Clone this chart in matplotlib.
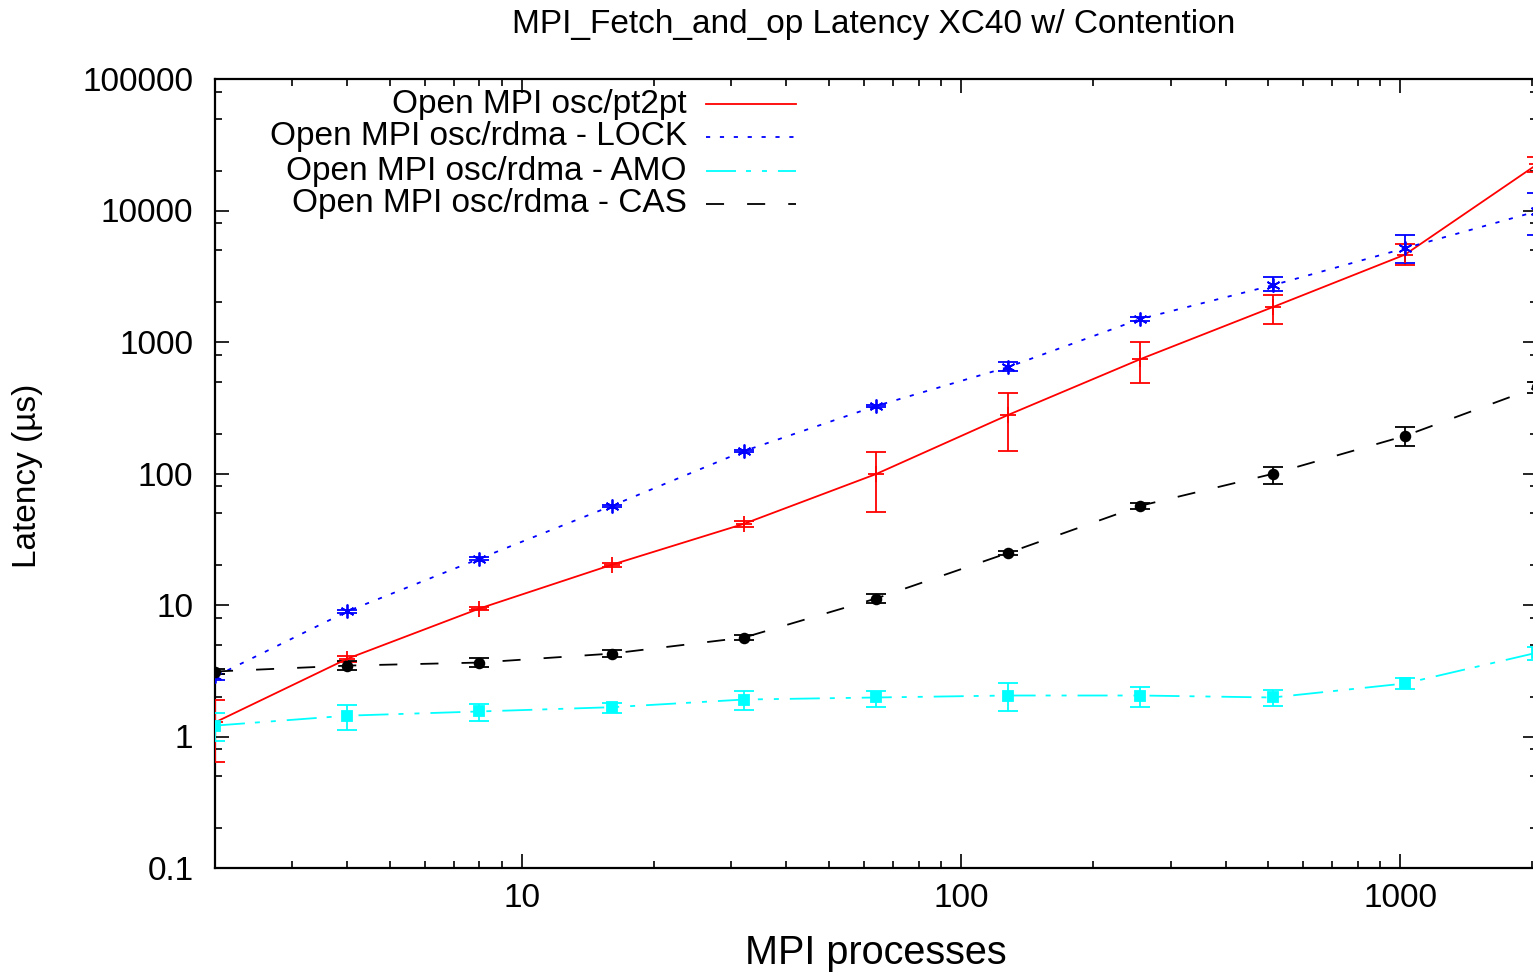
import numpy as np
import matplotlib
matplotlib.use("Agg")
import matplotlib.pyplot as plt
from matplotlib.ticker import LogLocator, NullFormatter, FixedLocator, FixedFormatter
from matplotlib.lines import Line2D

plt.rcParams['font.family'] = ['Liberation Sans', 'DejaVu Sans']
plt.rcParams['lines.scale_dashes'] = False

# -------- data --------
procs = [2, 4, 8, 16, 32, 64, 128, 256, 512, 1024, 2048]

pt2pt = [1.28, 3.9, 9.4, 20.2, 41.4, 99, 279, 741, 1840, 4610, 22400]
pt2pt_lo = [0.64, 3.7, 9.1, 19.6, 39.5, 51, 148, 490, 1370, 3840, 19500]
pt2pt_hi = [1.88, 4.1, 9.7, 20.8, 43.5, 146, 409, 1000, 2270, 5540, 25400]

lock = [2.86, 8.94, 22.5, 56.7, 148, 326, 645, 1497, 2700, 5160, 9860]
lock_lo = [2.7, 8.7, 22.0, 55.5, 145, 318, 600, 1450, 2450, 3980, 6470]
lock_hi = [3.0, 9.2, 23.0, 58.0, 151, 334, 700, 1550, 3100, 6470, 13700]

amo = [1.21, 1.44, 1.55, 1.67, 1.91, 1.98, 2.05, 2.05, 1.98, 2.53, 4.34]
amo_lo = [0.92, 1.13, 1.32, 1.5, 1.6, 1.69, 1.56, 1.67, 1.72, 2.3, 3.8]
amo_hi = [1.5, 1.75, 1.78, 1.81, 2.21, 2.21, 2.54, 2.37, 2.27, 2.8, 4.78]

cas = [3.12, 3.46, 3.65, 4.27, 5.65, 11.2, 24.9, 56.8, 99.3, 193, 454]
cas_lo = [3.0, 3.2, 3.35, 4.0, 5.4, 10.4, 24.0, 53.5, 83, 163, 410]
cas_hi = [3.25, 3.75, 3.95, 4.55, 5.95, 12.2, 25.9, 60.0, 113, 224, 500]

labels = ["Open MPI osc/pt2pt", "Open MPI osc/rdma - LOCK",
          "Open MPI osc/rdma - AMO", "Open MPI osc/rdma - CAS"]
# ------------------------------------------------

W, H = 1533, 973
fig = plt.figure(figsize=(W / 100, H / 100), dpi=100)
ax = fig.add_axes([215 / W, (H - 868) / H, 1322 / W, 789 / H])

asterisk = (6, 2, 0)
series = [
    (pt2pt, pt2pt_lo, pt2pt_hi, '#ff0000', '+', 11, None),
    (lock, lock_lo, lock_hi, '#0000ff', asterisk, 10, (0, (3, 7))),
    (amo, amo_lo, amo_hi, '#00ffff', 's', 7, (0, (21.6, 7.2, 3.6, 7.9, 3.6, 7.9))),
    (cas, cas_lo, cas_hi, '#000000', 'o', 7, (0, (13, 16.6))),
]

for y, lo, hi, col, mk, ms, dash in series:
    y = np.array(y)
    err = [y - np.array(lo), np.array(hi) - y]
    ax.errorbar(procs, y, yerr=err, fmt='none', ecolor=col, elinewidth=1.3,
                capsize=7.5, capthick=1.3, zorder=3)
    line, = ax.plot(procs, y, color=col, lw=1.3, marker=mk, ms=ms,
                    mew=1.3, zorder=4)
    if dash is not None:
        line.set_linestyle(dash)

ax.set_xscale('log')
ax.set_yscale('log')
ax.set_xlim(2, 2048)
ax.set_ylim(0.1, 100000)

ax.xaxis.set_major_locator(FixedLocator([10, 100, 1000]))
ax.xaxis.set_major_formatter(FixedFormatter(['10', '100', '1000']))
ax.xaxis.set_minor_locator(LogLocator(base=10, subs=np.arange(2, 10)))
ax.xaxis.set_minor_formatter(NullFormatter())

yt = [0.1, 1, 10, 100, 1000, 10000, 100000]
ax.yaxis.set_major_locator(FixedLocator(yt))
ax.yaxis.set_major_formatter(FixedFormatter(['0.1', '1', '10', '100', '1000', '10000', '100000']))
ax.yaxis.set_minor_locator(LogLocator(base=10, subs=[2, 5, 8]))
ax.yaxis.set_minor_formatter(NullFormatter())

ax.tick_params(which='both', direction='in', top=True, right=True, width=1.2)
ax.tick_params(which='major', length=10, labelsize=24)
ax.tick_params(axis='y', which='major', pad=15.5)
ax.tick_params(axis='x', which='major', pad=11)
ax.tick_params(which='minor', length=5)
for s in ax.spines.values():
    s.set_linewidth(1.6)

# title and axis labels placed in figure pixels
fig.text(874 / W, 1 - 25 / H, "MPI_Fetch_and_op Latency XC40 w/ Contention",
         ha='center', va='center', fontsize=24)
fig.text(876 / W, 1 - 953 / H, "MPI processes", ha='center', va='center', fontsize=28.5)
fig.text(28 / W, 1 - 476 / H, "Latency (µs)", ha='center', va='center',
         rotation=90, fontsize=24)

# legend drawn by hand: right-aligned text, line sample on the right
rows = [0.968, 0.9265, 0.883, 0.8416]
styles = [('#ff0000', '-'), ('#0000ff', (0, (3, 7))),
          ('#00ffff', (0, (21.6, 7.2, 3.6, 7.9, 3.6, 7.9))), ('#000000', (0, (13, 16.6)))]
tx = (687 - 215) / 1322
lx0, lx1 = (706 - 215) / 1322, (796 - 215) / 1322
for lab, yy, (col, ls) in zip(labels, rows, styles):
    ax.text(tx, yy, lab, transform=ax.transAxes, ha='right', va='center', fontsize=24)
    ax.add_line(Line2D([lx0, lx1], [yy, yy], transform=ax.transAxes, color=col,
                       lw=1.3, linestyle=ls))

fig.savefig("out.png", dpi=100)
